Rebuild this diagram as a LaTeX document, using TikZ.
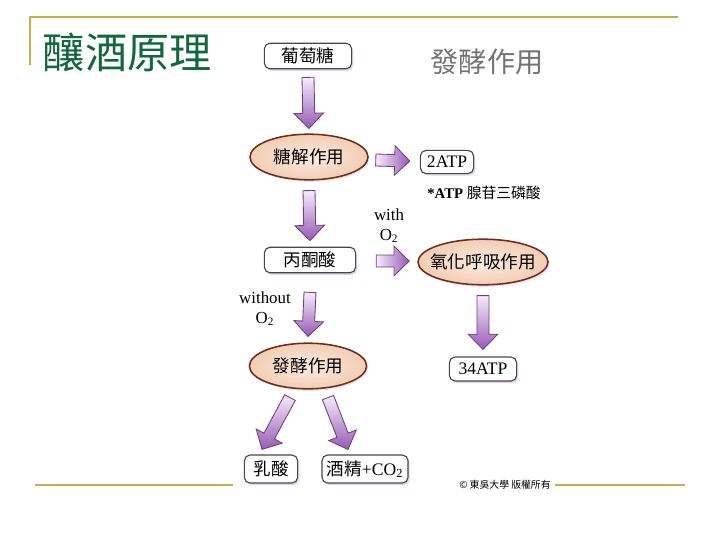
\documentclass[tikz,border=0pt]{standalone}
\usepackage{fontspec}
\setmainfont{Liberation Serif}
\newfontfamily\cjk{Noto Sans CJK TC}
\usetikzlibrary{arrows.meta,positioning,calc,shapes.geometric,shadows}
\definecolor{ruleC}{RGB}{196,176,72}
\definecolor{titleC}{RGB}{16,104,60}
\definecolor{peachC}{RGB}{242,205,180}
\definecolor{peachL}{RGB}{252,236,224}
\definecolor{rimC}{RGB}{110,45,25}
\definecolor{arrC}{RGB}{150,90,180}
\definecolor{arrL}{RGB}{246,236,250}
\definecolor{arrD}{RGB}{110,60,140}
\definecolor{boxC}{RGB}{70,70,80}

% block arrow drawn between two points (shaft half-width, head half-width, head length)
\newcommand{\flowarrow}[3][]{%
  \coordinate (fa-s) at (#2); \coordinate (fa-e) at (#3);
  \coordinate (fa-m) at ($(fa-e)!3.8mm!(fa-s)$);
  \draw[blk,#1] ($(fa-s)!1.5mm!90:(fa-e)$) -- ($(fa-m)!1.5mm!90:(fa-e)$)
    -- ($(fa-m)!3.7mm!90:(fa-e)$) -- (fa-e) -- ($(fa-m)!3.7mm!-90:(fa-e)$)
    -- ($(fa-m)!1.5mm!-90:(fa-e)$) -- ($(fa-s)!1.5mm!-90:(fa-e)$) -- cycle;}

\begin{document}
\begin{tikzpicture}[x=0.025cm, y=-0.025cm,
  font=\fontsize{12.5pt}{14pt}\selectfont,
  box/.style={draw=boxC, line width=0.8pt, rounded corners=4pt, fill=white,
              inner sep=0pt, minimum height=6.4mm,
              drop shadow={shadow xshift=1.2pt, shadow yshift=-1.5pt, fill=arrC!45, opacity=0.6}},
  proc/.style={ellipse, draw=rimC, line width=1.1pt, inner sep=0pt,
               inner color=peachL, outer color=peachC, minimum height=11.4mm,
               drop shadow={shadow xshift=1pt, shadow yshift=-1.5pt, fill=arrC!35, opacity=0.5}},
  blk/.style={draw=arrD, line width=0.6pt, line join=miter},
  dn/.style={top color=arrL, bottom color=arrC},
  rt/.style={left color=arrL, right color=arrC},
  lbl/.style={font=\fontsize{12pt}{13pt}\selectfont, align=center},
  rule/.style={draw=ruleC, line width=1.3pt},
]
\useasboundingbox (0,0) rectangle (720,540);

% ============ frame and headings ============
\draw[rule] (30,65) -- (30,17) -- (678,17);
\draw[rule] (35,485) -- (233,485);
\draw[rule] (555,485) -- (685,485);
\node[anchor=west, text=titleC, font=\cjk\fontsize{30pt}{32pt}\selectfont] (title) at (38,52) {釀酒原理};
\node[text=black!55, font=\cjk\fontsize{20pt}{22pt}\selectfont] (subtitle) at (487,62) {發酵作用};

% ============ left column ============
\node[box, minimum width=21.8mm] (glu) at (308,56) {\cjk 葡萄糖};
\node[proc, minimum width=29.5mm] (gly) at (309,157) {\cjk 糖解作用};
\node[box, minimum width=22.8mm] (pyr) at (310,260) {\cjk 丙酮酸};
\node[proc, minimum width=29.3mm] (ferm) at (308,366) {\cjk 發酵作用};
\node[box, minimum width=13.3mm, minimum height=7mm] (lac) at (271,469) {\cjk 乳酸};
\node[box, minimum width=21.5mm, minimum height=7mm] (eth) at (365,469) {{\cjk 酒精}+CO\textsubscript{2}};

% ============ right column ============
\node[box, minimum width=13.3mm, minimum height=5.8mm] (atpa) at (447,162) {2ATP};
\node[font=\fontsize{10.5pt}{12pt}\selectfont] (atpnote) at (484,193) {\textbf{*ATP} {\cjk 腺苷三磷酸}};
\node[proc, inner xsep=-8pt, minimum width=32.5mm] (resp) at (483,262) {\cjk 氧化呼吸作用};
\node[box, minimum width=16.8mm, minimum height=6mm] (atpb) at (483,369) {34ATP};

% ============ conditions ============
\node[lbl] (withO) at (389,226) {with\\[1pt]O\textsubscript{2}};
\node[lbl] (noO) at (265,309) {without\\[1pt]O\textsubscript{2}};

% ============ arrows ============
\flowarrow[dn]{$(glu.south)+(0,8)$}{$(gly.north)+(0,-5)$}
\flowarrow[rt]{$(gly.east)+(7,3)$}{$(atpa.west)+(-10,-1)$}
\flowarrow[dn]{$(gly.south)+(0,10)$}{$(pyr.north)+(0,-6)$}
\flowarrow[rt]{$(pyr.east)+(20,1)$}{$(resp.west)+(-8,-1)$}
\flowarrow[dn]{$(pyr.south)+(0,19)$}{$(ferm.north)+(0,-6)$}
\flowarrow[dn]{$(resp.south)+(0,10)$}{$(atpb.north)+(0,-7)$}
\flowarrow[dn]{$(ferm.south)+(-18,8)$}{$(lac.north)+(-9,-5)$}
\flowarrow[dn]{$(ferm.south)+(20,8)$}{$(eth.north)+(-17,-5)$}

% ============ footer ============
\node[font=\cjk\fontsize{7pt}{8pt}\selectfont] (copy) at (505,485) {© 東吳大學 版權所有};

\end{tikzpicture}
\end{document}
